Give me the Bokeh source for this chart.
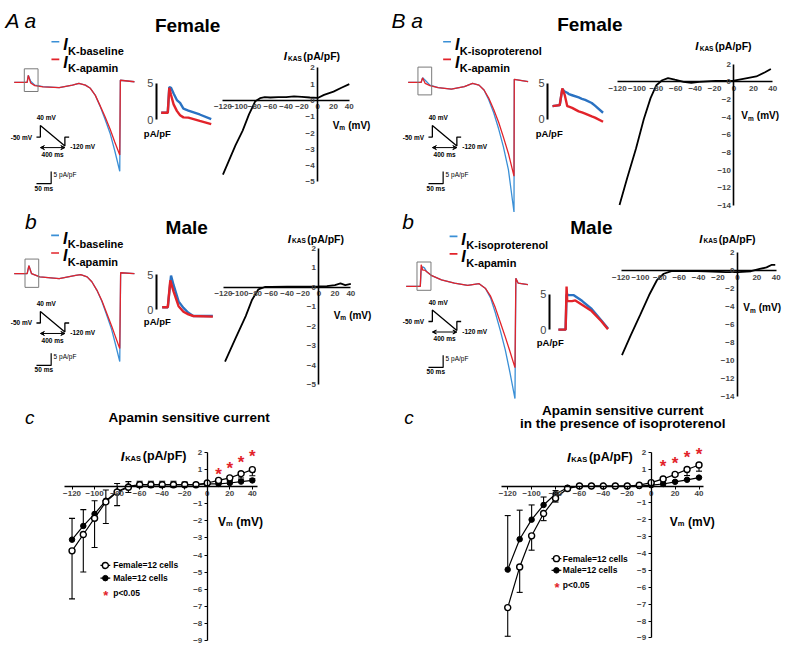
from bokeh.plotting import figure
from bokeh.models import Range1d, LinearAxis, FixedTicker, Arrow, VeeHead
from bokeh.core.properties import value
from bokeh.embed import file_html
from bokeh.resources import INLINE

FONT = "Liberation Sans"
BLUE = "#3a8fd6"
BLUE_IN = "#2a72c2"
RED = "#e2232a"

# ======================= DATA =======================
# --- A a : female, I_K-baseline (blue) vs I_K-apamin (red); time (ms), current (pA/pF)
aa_t = [0, 44, 48, 56, 70, 98, 153, 198, 220, 242, 259, 276, 292, 309, 326, 342, 359, 361, 409]
aa_blue = [0, 0, 2.9, 0.5, -1.1, -1.7, -2.1, -1.1, -0.4, -1.1, -2.4, -5.3, -9.7, -15.1, -20.8, -28.0, -36.4, 0.9, 0.3]
aa_red = [0, 0, 2.9, -0.2, -1.3, -1.8, -2.1, -1.1, -0.4, -1.1, -2.4, -5.3, -9.5, -14.1, -19.1, -24.4, -29.7, 0.9, 0.3]
aa_in_t = [0, 6.1, 7.5, 9.1, 11.5, 14.5, 17.5, 20.6, 25.2, 35.7, 46.4]
aa_in_blue = [0.95, 0.95, 4.5, 4.4, 3.6, 2.7, 2.3, 1.5, 1.25, 0.7, 0.05]
aa_in_red = [0.95, 0.95, 4.4, 3.4, 2.1, 1.2, 0.6, 0.3, 0.27, -0.18, -0.63]
aa_iv_v = [-120, -112, -104, -95, -87, -79, -73, -67, -60, -50, -40, -30, -20, -10, 0, 8, 20, 30, 40]
aa_iv_i = [-4.55, -3.65, -2.75, -1.85, -0.86, -0.05, 0.14, 0.2, 0.18, 0.2, 0.2, 0.25, 0.22, 0.18, 0.15, 0.34, 0.54, 0.78, 1.0]

# --- B a : female, I_K-isoproterenol (blue) vs I_K-apamin (red)
ba_t = [0, 44, 49, 58, 74, 102, 147, 191, 219, 241, 258, 274, 291, 308, 324, 341, 360, 361, 408]
ba_blue = [0, 0, 1.9, 0.9, -1.1, -2.1, -2.7, -1.7, -0.4, -1.1, -3.1, -7.1, -12.4, -19.1, -26.4, -35.7, -53.1, 1.3, 0.3]
ba_red = [0, 0, 1.9, -0.4, -1.3, -2.1, -2.7, -1.7, -0.4, -1.1, -3.1, -6.4, -11.1, -16.4, -22.4, -29.1, -38.4, 1.3, 0.3]
ba_in_t = [0, 6.7, 9.1, 11.3, 13.7, 15.2, 18.2, 24.3, 27.3, 30.3, 36.4, 39.4, 46.9]
ba_in_blue = [1.83, 1.97, 4.22, 3.86, 3.7, 3.5, 3.35, 3.04, 2.85, 2.7, 2.27, 1.9, 0.91]
ba_in_red = [1.83, 1.97, 4.31, 3.41, 1.83, 1.75, 1.59, 1.1, 0.95, 0.78, 0.4, 0.23, -0.35]
ba_iv_v = [-118, -110, -101, -93, -86, -80, -74, -68, -61, -52, -44, -36, -19, 0, 15, 23, 32, 38]
ba_iv_i = [-13.95, -10.85, -7.55, -4.24, -1.85, -0.39, 0.17, 0.42, 0.23, 0, -0.13, 0, 0.1, 0.13, 0.45, 0.6, 1.08, 1.45]

# --- A b : male, baseline vs apamin
ab_t = [0, 44, 50, 59, 87, 153, 209, 226, 248, 264, 281, 298, 314, 331, 344, 359, 362, 409]
ab_blue = [0, 0, 3.3, 0, -1.3, -2.0, -0.7, -0.4, -1.3, -3.3, -6.7, -11.3, -16.7, -22.7, -28.7, -36.0, 0.4, 0]
ab_red = [0, 0, 3.3, 0, -1.3, -2.0, -0.7, -0.4, -1.3, -3.3, -6.7, -11.0, -16.0, -21.3, -25.7, -30.7, 0.4, 0]
ab_in_blue_t = [0, 5.2, 8.2, 10.6, 15.2, 19.7, 24.3, 28.8, 47]
ab_in_blue = [0.37, 0.37, 4.86, 3.5, 1.2, 0.28, -0.42, -0.88, -0.88]
ab_in_red_t = [0, 5.2, 7.5, 10.6, 15.2, 19.7, 24.3, 28.8, 47]
ab_in_red = [0.37, 0.37, 4.2, 2.6, 0.51, -0.28, -0.65, -0.88, -0.97]
ab_iv_v = [-118, -105, -92, -84, -76, -68, -60, -40, -20, 0, 10, 20, 27, 33, 40]
ab_iv_i = [-3.8, -2.63, -1.47, -0.63, -0.1, 0.02, 0.03, 0.04, 0.04, 0.05, 0.06, 0.12, 0.2, 0.12, 0.18]

# --- B b : male, isoproterenol vs apamin
bb_t = [0, 48, 51, 56, 62, 70, 87, 120, 164, 209, 248, 270, 287, 303, 320, 337, 353, 370, 373, 381, 414]
bb_blue = [0, 0, 7.0, 8.0, 7.6, 6.0, 4.4, 2.7, 1.3, 0.4, 1.1, -0.9, -4.7, -10.7, -18.0, -26.0, -35.3, -46.0, 3.3, 1.3, 0.7]
bb_red = [0, 0, 8.9, 6.7, 6.7, 6.0, 4.4, 2.7, 1.3, 0.4, 1.1, -0.9, -4.0, -8.7, -14.7, -20.7, -26.7, -33.3, 3.3, 1.3, 0.7]
bb_in_blue_t = [0, 6.7, 7.6, 9.7, 14.3, 21.9, 30.9, 39.9, 46]
bb_in_blue = [0, 0, 4.93, 4.84, 4.84, 4.04, 2.9, 1.28, 0.14]
bb_in_red_t = [0, 6.7, 7.6, 8.2, 12.7, 15.7, 21.9, 30.9, 39.9, 46]
bb_in_red = [0, 0, 6.06, 4.0, 4.0, 4.1, 3.5, 2.6, 1.18, 0.04]
bb_iv_v = [-119, -110, -100, -91, -83, -76, -68, -50, -33, -12, 1, 14, 23, 30, 35, 39]
bb_iv_i = [-9.4, -7.2, -4.86, -2.7, -1.05, -0.33, -0.03, -0.02, -0.05, -0.15, -0.15, -0.05, 0.2, 0.38, 0.65, 0.65]

# --- voltage protocol (ms, mV) and scale bars
proto_t = [-64, 0, 0, 400, 400, 470]
proto_v = [-50, -50, 40, -120, -50, -50]
bar_ms = 50
bar_pApF = 5

# --- c panels: mean +/- SEM, n = 12 cells each
c_vm = [-120, -110, -100, -90, -80, -70, -60, -50, -40, -30, -20, -10, 0, 10, 20, 30, 40]
ac_female = [-3.75, -2.8, -1.85, -0.9, -0.33, -0.05, 0.1, 0.1, 0.1, 0.1, 0.1, 0.1, 0.2, 0.35, 0.5, 0.74, 0.98]
ac_female_sem = [2.8, 2.18, 1.71, 1.26, 0.79, 0.3, 0.15, 0.15, 0.15, 0.15, 0.1, 0.1, 0.1, 0.1, 0.15, 0.25, 0.36]
ac_male = [-3.1, -2.3, -1.6, -0.83, -0.3, 0.0, 0.1, 0.1, 0.1, 0.1, 0.1, 0.1, 0.15, 0.15, 0.2, 0.28, 0.35]
ac_male_sem = [1.24, 0.95, 0.77, 0.62, 0.47, 0.28, 0.2, 0.2, 0.2, 0.2, 0.15, 0.1, 0.1, 0.1, 0.1, 0.1, 0.1]
bc_female = [-7.2, -4.8, -2.95, -1.63, -0.72, -0.15, 0, 0, 0, 0, 0, 0.05, 0.2, 0.42, 0.69, 0.98, 1.25]
bc_female_sem = [1.7, 1.5, 0.85, 0.42, 0.23, 0.1, 0.05, 0.05, 0.05, 0.05, 0.05, 0.05, 0.05, 0.1, 0.1, 0.36, 0.37]
bc_male = [-4.95, -3.15, -1.99, -1.12, -0.47, -0.1, 0, 0, 0, 0, 0, 0, 0.05, 0.12, 0.25, 0.37, 0.5]
bc_male_sem = [3.2, 1.72, 0.87, 0.47, 0.2, 0.05, 0.05, 0.05, 0.05, 0.05, 0.05, 0.05, 0.05, 0.05, 0.05, 0.05, 0.05]
sig_vm = [10, 20, 30, 40]
ac_sig_y = [0.93, 1.25, 1.65, 2.0]
bc_sig_y = [1.38, 1.6, 1.9, 2.1]

iv_x_ticks = [-120, -100, -80, -60, -40, -20, 0, 20, 40]
iv_y_ticks_small = [2, 1, 0, -1, -2, -3, -4, -5]
iv_y_ticks_big = [2, 0, -2, -4, -6, -8, -10, -12, -14]
c_y_ticks = [2, 1, -1, -2, -3, -4, -5, -6, -7, -8, -9]

# ======================= FIGURE =======================
W_REF, H_REF = 798, 660
p = figure(width=782, height=644, x_range=Range1d(0, W_REF), y_range=Range1d(H_REF, 0),
           output_backend="svg", toolbar_location=None, x_axis_type=None, y_axis_type=None,
           min_border=0, outline_line_color=None, background_fill_color="white")


def rng(name, dx0, dx1, px0, px1, dy0, dy1, py0, py1):
    sx = (dx1 - dx0) / (px1 - px0)
    p.extra_x_ranges[name] = Range1d(start=dx0 - px0 * sx, end=dx0 + (W_REF - px0) * sx)
    sy = (dy1 - dy0) / (py1 - py0)
    p.extra_y_ranges[name] = Range1d(start=dy0 + (H_REF - py0) * sy, end=dy0 - py0 * sy)
    return dict(x_range_name=name, y_range_name=name)


def txt(x, y, s, size, style="bold", color="black", align="left", base="middle"):
    p.text(x=[x], y=[y], text=[s], text_font=value(FONT), text_font_size=f"{size}px",
           text_font_style=style, text_color=color, text_align=align, text_baseline=base)


def axis(rn, dim, loc, bounds, ticks, size, tick_out=0, standoff=4, lw=1.5, style="bold"):
    ax = LinearAxis(**rn, fixed_location=loc, bounds=bounds, ticker=FixedTicker(ticks=ticks),
                    axis_line_width=lw, major_tick_out=tick_out, major_tick_in=0,
                    minor_tick_out=0, minor_tick_in=0, major_label_standoff=standoff,
                    major_label_text_font=FONT, major_label_text_font_size=f"{size}px",
                    major_label_text_font_style=style, major_tick_line_width=1)
    p.add_layout(ax, "below" if dim == 0 else "left")


def ikas_label(x, y, big, small, dk, dp):
    txt(x, y, "I", big + 1, "bold italic")
    txt(x + dk, y + 2, "KAS", small, "bold")
    txt(x + dp, y, "(pA/pF)", big, "bold")


def vm_label(x, y, big, small):
    txt(x, y, "V", big, "bold")
    txt(x + big * 0.68, y + 2.5, "m", small, "bold")
    txt(x + big * 0.68 + small * 0.95 + big * 0.28, y, "(mV)", big, "bold")


def top_panel(key, g, t, blue, red, in_bt, in_b, in_rt, in_r, iv_v, iv_i, blue_sub, yticks, ybounds):
    txt(*g["tag"], g["tag_s"], 21, "italic", base="alphabetic")
    txt(*g["title"], g["title_s"], 19, "bold", align="center", base="alphabetic")
    # legend
    lx, ly = g["leg"]
    for dy, col, sub in ((0, BLUE, blue_sub), (18, RED, "K-apamin")):
        p.line([lx, lx + 8], [ly + dy, ly + dy], line_color=col, line_width=1.6)
        txt(lx + 12, ly + dy + 3, "I", 16, "bold italic")
        txt(lx + 17, ly + dy + 9, sub, 11, "bold")
    # whole sweep
    x0, y0 = g["trace0"]
    rt = rng(key + "_tr", 0, 100, x0, x0 + 30, 0, -10, y0, y0 + 25)
    p.line(t, blue, line_color=BLUE, line_width=1.3, **rt)
    p.line(t, red, line_color=RED, line_width=1.3, **rt)
    l, r, tp, bt = g["box"]
    p.quad(left=[l], right=[r], top=[tp], bottom=[bt], fill_color=None,
           line_color="#7a7a7a", line_width=1, **rt)
    bx, by = g["bar"]
    p.line([bx - bar_ms, bx, bx], [by, by, by + bar_pApF], line_color="black", line_width=1.2, **rt)
    cx, cy = x0 + bx * 0.3, y0 - by * 2.5
    txt(cx + 2.5, cy - 9.5, "5 pA/pF", 6.5, "normal")
    txt(cx - 7.5, cy + 4.5, "50 ms", 6.5, "bold", align="center")
    # protocol
    px, py = g["proto0"]
    rp = rng(key + "_pr", 0, 400, px, px + 25, -50, 40, py, py - 11.8)
    p.line(proto_t, proto_v, line_color="black", line_width=1.3, **rp)
    p.add_layout(Arrow(start=VeeHead(size=4, line_width=1), end=VeeHead(size=4, line_width=1),
                       x_start=0, y_start=-132, x_end=400, y_end=-132, line_width=1, **rp))
    txt(px + 6, py - 20, "40 mV", 6.5, "bold", align="center")
    txt(px - 8.5, py, "-50 mV", 6.5, "bold", align="right")
    txt(px + 30.5, py + 10, "-120 mV", 6.5, "bold")
    txt(px + 12.5, py + 17.5, "400 ms", 6.5, "bold", align="center")
    # inset
    ix, iy, sxp, syp = g["inset0"]
    ri = rng(key + "_in", 0, 10, ix, ix + 10 * sxp, 0, 5, iy, iy - 5 * syp)
    p.line(in_bt, in_b, line_color=BLUE_IN, line_width=2.4, **ri)
    p.line(in_rt, in_r, line_color=RED, line_width=2.4, **ri)
    axis(ri, 1, (g["inset_ax"] - ix) / sxp, (0, 5), [0, 5], 11, standoff=3, lw=2, style="normal")
    txt(*g["inset_unit"], "pA/pF", 9.5, "bold", align="center")
    # I-V of apamin-sensitive current
    vx, vy, sv, si = g["iv0"]
    rv = rng(key + "_iv", 0, 10, vx, vx + 10 * sv, 0, 1, vy, vy - si)
    axis(rv, 0, 0, (-120, 40), iv_x_ticks, 8, standoff=4, lw=1.6)
    axis(rv, 1, 0, ybounds, yticks, 8, standoff=3, lw=1.6)
    p.line(iv_v, iv_i, line_color="black", line_width=1.8, **rv)
    ikas_label(*g["ylab"], 10.5, 6.5, 4.5, 20)
    vm_label(*g["vlab"], 10, 6.5)


GEO = {
    "Aa": dict(tag=(5, 20), tag_s="A a", title=(191, 26), title_s="Female", leg=(52, 42.3),
               trace0=(14, 84), box=(34.3, 81, 5.6, -3.7), bar=(125.7, -41.5), proto0=(40.7, 140),
               inset0=(164, 122, 1.1, 7.4), inset_ax=159, inset_unit=(160, 136),
               iv0=(323.7, 102.4, 0.806, 16.7), ylab=(289, 57), vlab=(339, 128)),
    "Ba": dict(tag=(399, 20), tag_s="B a", title=(601.5, 25), title_s="Female", leg=(451.7, 42.3),
               trace0=(416, 84), box=(33.3, 80, 6.3, -5.1), bar=(119, -41.5), proto0=(440.7, 140),
               inset0=(563.3, 121.7, 1.1, 7.34), inset_ax=558.3, inset_unit=(560, 136),
               iv0=(748.5, 83.3, 0.99, 9.06), ylab=(709, 47), vlab=(756, 118)),
    "Ab": dict(tag=(25, 227), tag_s="b", title=(190, 233), title_s="Male", leg=(51.7, 240.7),
               trace0=(14, 280), box=(36.7, 83.3, 6, -5.6), bar=(125.7, -37.6), proto0=(40.7, 330.5),
               inset0=(165, 317, 1.1, 7.2), inset_ax=159, inset_unit=(160, 329),
               iv0=(325, 294, 0.8125, 20), ylab=(293, 244), vlab=(340, 322.5)),
    "Bb": dict(tag=(410, 227), tag_s="b", title=(603, 233), title_s="Male", leg=(458.3, 241.7),
               trace0=(414, 293), box=(36.7, 84.3, 10, -1.6), bar=(125.7, -33.2), proto0=(440.7, 329),
               inset0=(569.3, 337.3, 1.1, 7.3), inset_ax=560, inset_unit=(561, 350),
               iv0=(752, 277, 0.99, 9.2), ylab=(713, 244), vlab=(758, 315)),
}

top_panel("Aa", GEO["Aa"], aa_t, aa_blue, aa_red, aa_in_t, aa_in_blue, aa_in_t, aa_in_red,
          aa_iv_v, aa_iv_i, "K-baseline", iv_y_ticks_small, (-5, 2))
top_panel("Ba", GEO["Ba"], ba_t, ba_blue, ba_red, ba_in_t, ba_in_blue, ba_in_t, ba_in_red,
          ba_iv_v, ba_iv_i, "K-isoproterenol", iv_y_ticks_big, (-14, 2))
top_panel("Ab", GEO["Ab"], ab_t, ab_blue, ab_red, ab_in_blue_t, ab_in_blue, ab_in_red_t, ab_in_red,
          ab_iv_v, ab_iv_i, "K-baseline", iv_y_ticks_small, (-5, 2))
top_panel("Bb", GEO["Bb"], bb_t, bb_blue, bb_red, bb_in_blue_t, bb_in_blue, bb_in_red_t, bb_in_red,
          bb_iv_v, bb_iv_i, "K-isoproterenol", iv_y_ticks_big, (-14, 2))


def c_panel(key, g, fem, fem_sem, male, male_sem, sig_y):
    txt(*g["tag"], "c", 19, "italic", base="alphabetic")
    for tx, ty, s in g["titles"]:
        txt(tx, ty, s, 13.5, "bold", align="center", base="alphabetic")
    vx, vy, sv, si = g["iv0"]
    rc = rng(key + "_c", 0, 10, vx, vx + 10 * sv, 0, 1, vy, vy - si)
    axis(rc, 0, 0, g["xb"], iv_x_ticks, 8, tick_out=3, standoff=2, lw=1.3)
    axis(rc, 1, 0, (-9, 2), c_y_ticks, 8, tick_out=3, standoff=2, lw=1.3)
    fem_lo = [m - e for m, e in zip(fem, fem_sem)]
    male_hi = [m + e for m, e in zip(male, male_sem)]
    p.segment(x0=c_vm, y0=fem, x1=c_vm, y1=fem_lo, line_color="black", line_width=1.1, **rc)
    p.scatter(c_vm, fem_lo, marker="dash", size=6, line_color="black", line_width=1.1, **rc)
    p.segment(x0=c_vm, y0=male, x1=c_vm, y1=male_hi, line_color="black", line_width=1.1, **rc)
    p.scatter(c_vm, male_hi, marker="dash", size=6, line_color="black", line_width=1.1, **rc)
    p.line(c_vm, male, line_color="black", line_width=1.2, **rc)
    p.line(c_vm, fem, line_color="black", line_width=1.2, **rc)
    p.scatter(c_vm, male, marker="circle", size=5.5, fill_color="black", line_color="black", **rc)
    p.scatter(c_vm, fem, marker="circle", size=6, fill_color="white", line_color="black",
              line_width=1.4, **rc)
    p.text(x=sig_vm, y=sig_y, text=["*"] * len(sig_vm), text_font=value(FONT),
           text_font_size="17px", text_font_style="bold", text_color=RED, text_align="center",
           text_baseline="middle", y_offset=4, **rc)
    # legend
    lx, ly, d1, d2, tdx = g["leg"]
    p.line([lx - 5, lx + 5], [ly, ly], line_color="black", line_width=1.2)
    p.scatter([lx], [ly], marker="circle", size=6, fill_color="white", line_color="black", line_width=1.4)
    p.line([lx - 5, lx + 5], [ly + d1, ly + d1], line_color="black", line_width=1.2)
    p.scatter([lx], [ly + d1], marker="circle", size=5.5, fill_color="black", line_color="black")
    p.text(x=[lx + 0.5], y=[ly + d2], text=["*"], text_font=value(FONT), text_font_size="13px",
           text_font_style="bold", text_color=RED, text_align="center", text_baseline="middle", y_offset=3)
    txt(lx + tdx, ly, "Female=12 cells", 8.5, "bold")
    txt(lx + tdx, ly + d1, "Male=12 cells", 8.5, "bold")
    txt(lx + tdx, ly + d2, "p<0.05", 8.5, "bold")
    ikas_label(*g["ylab"], 12.5, 7.5, 4.5, 22.5)
    vm_label(*g["vlab"], 12, 7.5)


CGEO = {
    "Ac": dict(tag=(25, 427), titles=[(192.5, 427, "Apamin sensitive current")],
               iv0=(211, 498, 1.15, 17.6), xb=(-127, 45), leg=(107, 579, 13, 28, 8),
               ylab=(122.7, 467), vlab=(222, 534)),
    "Bc": dict(tag=(412, 427), titles=[(635, 420, "Apamin sensitive current"),
                                       (635, 434, "in the presence of isoproterenol")],
               iv0=(664, 497.6, 1.22, 17.3), xb=(-125, 44), leg=(567.3, 572, 12, 27, 6.5),
               ylab=(578, 468), vlab=(683, 534)),
}

c_panel("Ac", CGEO["Ac"], ac_female, ac_female_sem, ac_male, ac_male_sem, ac_sig_y)
c_panel("Bc", CGEO["Bc"], bc_female, bc_female_sem, bc_male, bc_male_sem, bc_sig_y)

open("out.html", "w").write(file_html(p, INLINE))
